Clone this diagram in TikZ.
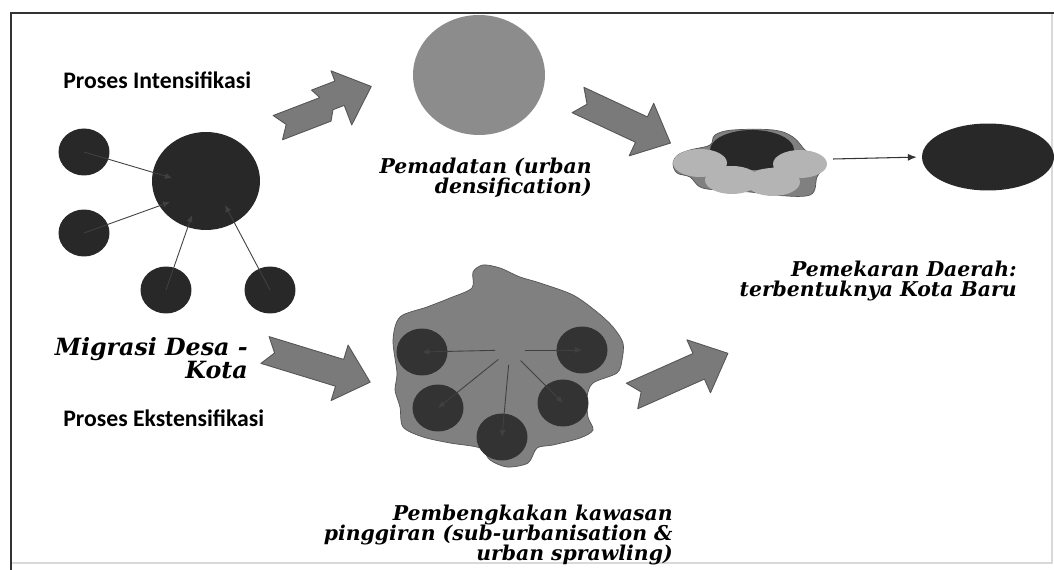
\documentclass[tikz,border=0pt]{standalone}
\usepackage{fontspec}
\newfontfamily\headfont{Carlito}[BoldFont={Carlito Bold}]
\newfontfamily\capfont{DejaVu Serif}
\usepackage{tikz}
\usetikzlibrary{arrows.meta,shapes.geometric}
\definecolor{dotdark}{RGB}{40,40,40}
\definecolor{padatgray}{RGB}{140,140,140}
\definecolor{arrowfill}{RGB}{122,122,122}
\definecolor{arrowline}{RGB}{85,85,85}
\definecolor{blobfill}{RGB}{128,128,128}
\definecolor{petal}{RGB}{180,180,180}
% block arrow: tail x, tail y, angle, length
\newcommand{\fatarrow}[4]{%
  \begin{scope}[shift={(#1,#2)},rotate=#3]
    \filldraw[fatarrow] (0,-14) -- ({#4-32},-14) -- ({#4-32},-29) -- (#4,0)
      -- ({#4-32},29) -- ({#4-32},14) -- (0,14) -- (10,0) -- cycle;
  \end{scope}}

\begin{document}
\begin{tikzpicture}[
  x=0.02cm,y=-0.02cm,
  >=Latex,
  dot/.style={ellipse,fill=dotdark,minimum width=10.2mm,minimum height=9.4mm,inner sep=0pt},
  fatarrow/.style={fill=arrowfill,draw=arrowline,line width=0.5pt,line join=round},
  spoke/.style={draw=black!75,line width=0.5pt,-{Latex[length=4pt,width=3.5pt]}},
  headtext/.style={font=\headfont\bfseries\fontsize{13.5}{15}\selectfont,anchor=west,inner sep=0pt},
  captext/.style={font=\capfont\bfseries\itshape\fontsize{11.6}{11.6}\selectfont,align=right,anchor=east,inner sep=0pt}
]
  \useasboundingbox (0,0) rectangle (1054,570);
  % frame
  \draw[black!15,line width=0.6pt] (1052,13) -- (1052,563) -- (11,563);
  \draw[black!80,line width=1.2pt] (1054,13) -- (11,13) -- (11,570);

  % migration towards the core
  \node[headtext] (tIntens) at (63,80) {Proses Intensifikasi};
  \node[ellipse,fill=dotdark,minimum width=21.6mm,minimum height=19.6mm] (kota) at (206,181) {};
  \node[dot] (s1) at (84,152) {};
  \node[dot] (s2) at (84,233) {};
  \node[dot] (s3) at (166,290) {};
  \node[dot] (s4) at (270,290) {};
  \coordinate (m1) at (172,178);
  \coordinate (m2) at (170,202);
  \coordinate (m3) at (192,215);
  \coordinate (m4) at (225,205);
  \draw[spoke] (s1.center) -- (m1);
  \draw[spoke] (s2.center) -- (m2);
  \draw[spoke] (s3.center) -- (m3);
  \draw[spoke] (s4.center) -- (m4);
  \node[captext,font=\capfont\bfseries\itshape\fontsize{13.5}{13.2}\selectfont] (tMigrasi) at (248,358) {Migrasi Desa -\\Kota};
  \node[headtext] (tEkstens) at (63,418) {Proses Ekstensifikasi};

  % zigzag arrow
  \begin{scope}[shift={(276,123)},rotate=21]
    \filldraw[fatarrow] (0,-8) -- (50,-8) -- (45,-18) -- (70,-18) -- (70,-29) -- (102,0)
      -- (70,29) -- (70,8) -- (58,8) -- (52,18) -- (0,18) -- (9,5) -- cycle;
  \end{scope}

  % densification
  \node[ellipse,fill=padatgray,minimum width=26.4mm,minimum height=24mm] (padat) at (479,75) {};
  \node[captext] (tPadat) at (592,178) {Pemadatan (urban\\densification)};
  \fatarrow{578}{100}{-25}{102}

  % merged city
  \fill[blobfill,draw=arrowline,line width=0.4pt] plot[smooth cycle,tension=0.6] coordinates {
    (673,163) (678,155) (690,150) (710,145) (715,135) (733,130) (773,130) (793,137)
    (807,152) (820,158) (823,168) (817,177) (810,195) (773,195) (750,192) (717,190)
    (700,187) (690,177) (677,173)};
  \fill[dotdark] (752,150) ellipse [x radius=42,y radius=20];
  \foreach \px/\py in {700/163,800/164,732/180,773/182}
    \fill[petal] (\px,\py) ellipse [x radius=27,y radius=14];
  \coordinate (flowerE) at (833,159);
  \node[ellipse,fill=dotdark,minimum width=26.4mm,minimum height=13.4mm] (city) at (988,157) {};
  \draw[black!80,line width=0.6pt,-{Latex[length=5pt,width=4pt]},shorten >=1mm] (flowerE) -- (city.west);
  \node[captext] (tMekar) at (1017,281) {Pemekaran Daerah:\\terbentuknya Kota Baru};

  % sprawling
  \fatarrow{265}{350}{-17}{110}
  \fill[blobfill,draw=arrowline,line width=0.4pt] plot[smooth cycle,tension=0.5] coordinates {
    (393,340) (400,317) (427,307) (450,298) (472,288) (473,272) (483,265) (500,268)
    (520,277) (540,283) (573,295) (597,312) (613,327) (623,343) (622,360) (617,373)
    (593,383) (587,397) (588,417) (593,430) (580,438) (553,445) (537,448) (528,463)
    (507,467) (490,460) (480,448) (450,443) (423,437) (403,427) (400,407) (395,390)
    (397,373)};
  \node[dot,fill=black!80] (p1) at (422,352) {};
  \node[dot,fill=black!80] (p2) at (438,408) {};
  \node[dot,fill=black!80] (p3) at (502,437) {};
  \node[dot,fill=black!80] (p4) at (563,403) {};
  \node[dot,fill=black!80] (p5) at (582,350) {};
  \coordinate (hub) at (510,350);
  \foreach \p in {p1,p2,p3,p4,p5}
    \draw[spoke,shorten <=3mm] (hub) -- (\p.center);
  \node[captext] (tBengkak) at (673,535) {Pembengkakan kawasan\\pinggiran (sub-urbanisation \&\\urban sprawling)};
  \fatarrow{632}{396}{24}{105}
\end{tikzpicture}
\end{document}
